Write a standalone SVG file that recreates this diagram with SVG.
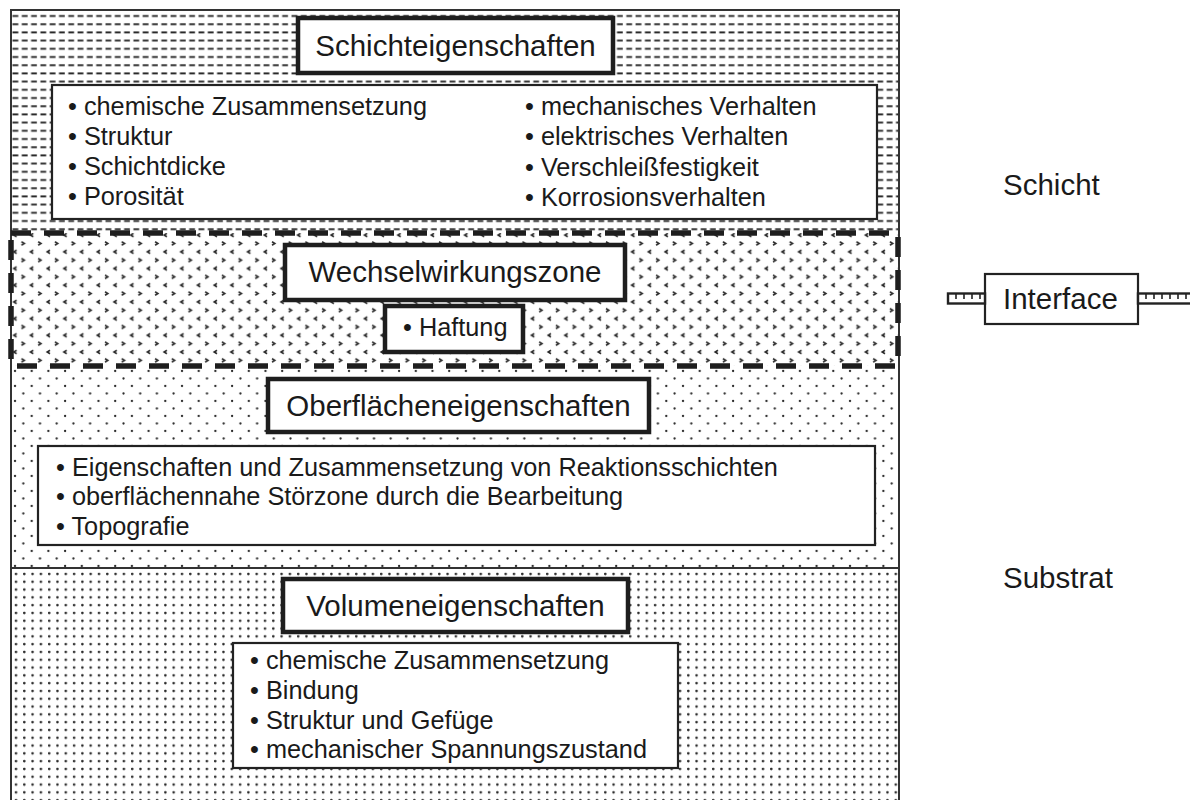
<svg xmlns="http://www.w3.org/2000/svg" width="1190" height="800" viewBox="0 0 1190 800">
<style>
.t{font-family:"Liberation Sans",Arial,sans-serif;fill:#1a1a1a}
.h{font-size:29.5px}
.l{font-size:25.3px}
.hb{fill:#fff;stroke:#1e1e1e;stroke-width:4.5}
.lb{fill:#fff;stroke:#222;stroke-width:2.2}
.fr{fill:none;stroke:#333;stroke-width:2}
</style>
<defs>
<pattern id="pDash" patternUnits="userSpaceOnUse" x="12" y="12" width="9.3" height="8.2">
<line x1="0.5" y1="4" x2="6.3" y2="4" stroke="#2a2a2a" stroke-width="1.9"/>
</pattern>
<pattern id="pChev" patternUnits="userSpaceOnUse" x="20.5" y="241" width="16.7" height="16.7">
<polyline points="1,0.8 3.8,2.5 1,4.2" fill="none" stroke="#2a2a2a" stroke-width="1.6"/>
<polyline points="12.8,9.1 10,10.8 12.8,12.5" fill="none" stroke="#2a2a2a" stroke-width="1.6"/>
</pattern>
<pattern id="pDotS" patternUnits="userSpaceOnUse" x="11" y="368" width="16.7" height="15">
<circle cx="4" cy="3" r="1.15" fill="#2a2a2a"/>
<circle cx="12.3" cy="10.5" r="1.15" fill="#2a2a2a"/>
</pattern>
<pattern id="pDotV" patternUnits="userSpaceOnUse" x="12" y="570" width="8.3" height="7.8">
<circle cx="4" cy="4" r="1.3" fill="#2a2a2a"/>
</pattern>
</defs>

<g id="background">
<rect x="11" y="10" width="888" height="223" fill="url(#pDash)"/>
<rect x="11" y="233" width="888" height="133" fill="url(#pChev)"/>
<rect x="11" y="366" width="888" height="202" fill="url(#pDotS)"/>
<rect x="11" y="568" width="888" height="240" fill="url(#pDotV)"/>
<rect x="11" y="10" width="888" height="800" class="fr"/>
<line x1="11" y1="568" x2="899" y2="568" stroke="#333" stroke-width="2"/>
<rect x="11" y="233" width="887" height="133" fill="none" stroke="#1e1e1e" stroke-width="5.5" stroke-dasharray="20 13"/>
</g>

<g id="schichteigenschaften">
<rect x="298" y="18" width="315" height="55" class="hb"/>
<text x="455.5" y="56" class="t h" text-anchor="middle">Schichteigenschaften</text>
</g>
<g id="schicht-liste">
<rect x="52" y="85" width="825" height="134" class="lb"/>
<text class="t l" x="68" y="115">• chemische Zusammensetzung</text>
<text class="t l" x="68" y="145">• Struktur</text>
<text class="t l" x="68" y="175">• Schichtdicke</text>
<text class="t l" x="68" y="205">• Porosität</text>
<text class="t l" x="525" y="115">• mechanisches Verhalten</text>
<text class="t l" x="525" y="145">• elektrisches Verhalten</text>
<text class="t l" x="525" y="176">• Verschleißfestigkeit</text>
<text class="t l" x="525" y="206">• Korrosionsverhalten</text>
</g>

<g id="wechselwirkungszone">
<rect x="285" y="245" width="340" height="55" class="hb"/>
<text x="455" y="282" class="t h" text-anchor="middle">Wechselwirkungszone</text>
</g>
<g id="haftung">
<rect x="385" y="306" width="138" height="46" class="hb"/>
<text class="t l" x="403" y="336">• Haftung</text>
</g>

<g id="oberflaecheneigenschaften">
<rect x="268" y="379" width="381" height="53" class="hb"/>
<text x="458.5" y="416" class="t h" text-anchor="middle">Oberflächeneigenschaften</text>
</g>
<g id="oberflaechen-liste">
<rect x="38" y="446" width="837" height="99" class="lb"/>
<text class="t l" x="56" y="476">• Eigenschaften und Zusammensetzung von Reaktionsschichten</text>
<text class="t l" x="56" y="505">• oberflächennahe Störzone durch die Bearbeitung</text>
<text class="t l" x="56" y="535">• Topografie</text>
</g>

<g id="volumeneigenschaften">
<rect x="283" y="579" width="345" height="53" class="hb"/>
<text x="455.5" y="616" class="t h" text-anchor="middle">Volumeneigenschaften</text>
</g>
<g id="volumen-liste">
<rect x="233" y="643" width="445" height="125" class="lb"/>
<text class="t l" x="250" y="669">• chemische Zusammensetzung</text>
<text class="t l" x="250" y="699">• Bindung</text>
<text class="t l" x="250" y="729">• Struktur und Gefüge</text>
<text class="t l" x="250" y="758">• mechanischer Spannungszustand</text>
</g>

<g id="schicht-label">
<text class="t h" x="1003" y="195">Schicht</text>
</g>
<g id="substrat-label">
<text class="t h" x="1003" y="588">Substrat</text>
</g>

<g id="interface">
<rect x="985" y="274" width="153" height="50" fill="#fff" stroke="#222" stroke-width="2.2"/>
<text class="t h" x="1003" y="309">Interface</text>
</g>
<g id="connectors">
<rect x="948" y="293.5" width="37" height="10" fill="#fff" stroke="#222" stroke-width="2.4"/>
<path d="M956 294v5M964 294v5M972 294v5M980 294v5" stroke="#222" stroke-width="1.6"/>
<rect x="1138" y="293.5" width="60" height="10" fill="#fff" stroke="#222" stroke-width="2.4"/>
<path d="M1146 294v5M1154 294v5M1162 294v5M1170 294v5M1178 294v5M1186 294v5" stroke="#222" stroke-width="1.6"/>
</g>
</svg>
